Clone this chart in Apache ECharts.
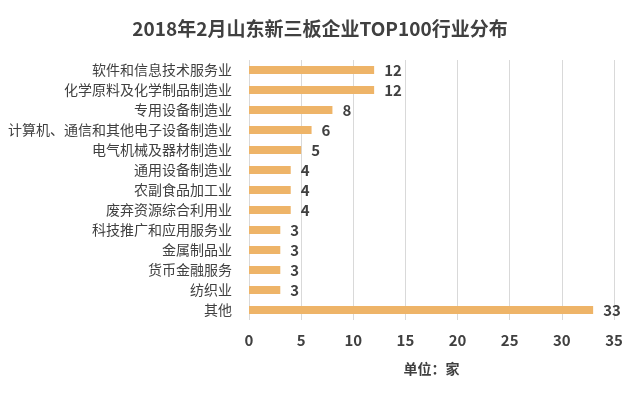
<!DOCTYPE html>
<html>
<head>
<meta charset="utf-8">
<script src="https://cdn.jsdelivr.net/npm/echarts@6/dist/echarts.min.js"></script>
<style>
  html, body { margin: 0; padding: 0; background: #fff; }
  #chart { width: 640px; height: 399px; }
</style>
</head>
<body>
<div id="chart"></div>
<script>
// categories top to bottom
const categories = [
  "软件和信息技术服务业",
  "化学原料及化学制品制造业",
  "专用设备制造业",
  "计算机、通信和其他电子设备制造业",
  "电气机械及器材制造业",
  "通用设备制造业",
  "农副食品加工业",
  "废弃资源综合利用业",
  "科技推广和应用服务业",
  "金属制品业",
  "货币金融服务",
  "纺织业",
  "其他"
];
const counts = [12, 12, 8, 6, 5, 4, 4, 4, 3, 3, 3, 3, 33];

const chart = echarts.init(document.getElementById("chart"));
const font = "'Noto Sans CJK SC', 'Noto Sans', sans-serif";

chart.setOption({
  animation: false,
  title: {
    text: "2018年2月山东新三板企业TOP100行业分布",
    left: "center",
    top: 14,
    textStyle: { fontFamily: font, fontSize: 19, fontWeight: "bold", color: "#404040" }
  },
  grid: { left: 249, right: 26, top: 60, bottom: 79 },
  xAxis: {
    type: "value",
    min: 0,
    max: 35,
    interval: 5,
    name: "单位：家",
    nameLocation: "middle",
    nameGap: 42,
    nameTextStyle: { fontFamily: font, fontSize: 14, fontWeight: "bold", color: "#404040" },
    axisLine: { show: false },
    axisTick: { show: false },
    axisLabel: { fontFamily: font, fontSize: 15, fontWeight: "bold", color: "#404040", margin: 13 },
    splitLine: { lineStyle: { color: "#d9d9d9", width: 1 } }
  },
  yAxis: {
    type: "category",
    data: categories,
    inverse: true,
    axisLine: { show: false },
    axisTick: { show: false },
    axisLabel: { fontFamily: font, fontSize: 14, color: "#404040", margin: 17 }
  },
  series: [{
    type: "bar",
    data: counts,
    barWidth: 8,
    itemStyle: { color: "#EEB468" },
    label: {
      show: true,
      position: "right",
      distance: 10,
      fontFamily: font,
      fontSize: 15,
      fontWeight: "bold",
      color: "#404040"
    }
  }]
});
</script>
</body>
</html>
